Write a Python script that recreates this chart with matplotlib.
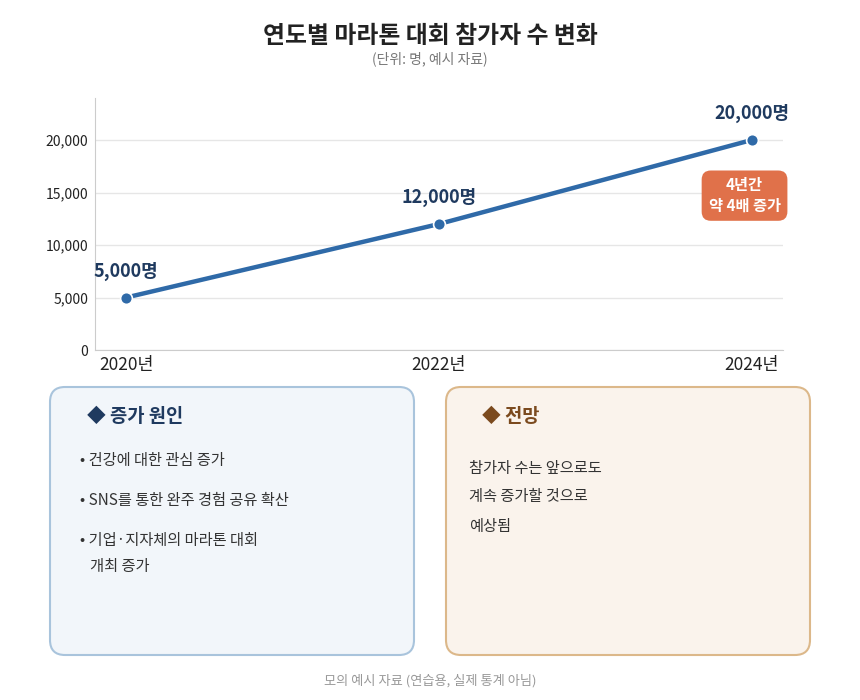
import matplotlib
matplotlib.use('Agg')
import matplotlib.pyplot as plt
from matplotlib.patches import FancyBboxPatch
from matplotlib.ticker import FuncFormatter

plt.rcParams['font.family'] = ['Noto Sans CJK KR', 'DejaVu Sans']

# data
years = ['2020년', '2022년', '2024년']
participants = [5000, 12000, 20000]
yticks = [0, 5000, 10000, 15000, 20000]
reasons = ['• 건강에 대한 관심 증가',
           '• SNS를 통한 완주 경험 공유 확산',
           '• 기업·지자체의 마라톤 대회\n   개최 증가']
outlook = ['참가자 수는 앞으로도', '계속 증가할 것으로', '예상됨']

navy = '#1f3a5f'
blue = '#2f6aa8'

fig = plt.figure(figsize=(8.6, 7), dpi=100)

# overlay in pixel coords for boxes and free text
bg = fig.add_axes([0, 0, 1, 1])
bg.set_xlim(0, 860)
bg.set_ylim(700, 0)
bg.axis('off')

bg.text(430, 36, '연도별 마라톤 대회 참가자 수 변화', ha='center', va='center',
        fontsize=17.2, fontweight='bold', color='#222222')
bg.text(430, 59, '(단위: 명, 예시 자료)', ha='center', va='center',
        fontsize=10, color='#777777')

# line chart
ax = fig.add_axes([95/860, 1-350/700, 688/860, 252/700])
x = list(range(len(years)))
ax.plot(x, participants, color=blue, lw=3.2, marker='o', markersize=8.5,
        markeredgecolor='white', markeredgewidth=1.2, zorder=3)
ax.set_xlim(-0.1, 2.1)
ax.set_ylim(0, 24000)
ax.set_xticks(x)
ax.set_xticklabels(years, fontsize=12.5, color='#222222')
ax.set_yticks(yticks)
ax.yaxis.set_major_formatter(FuncFormatter(lambda v, p: f'{int(v):,}'))
ax.tick_params(axis='y', labelsize=10, length=0, pad=5, colors='#222222')
ax.tick_params(axis='x', length=0, pad=4)
ax.grid(axis='y', color='#e6e6e6', lw=1)
ax.set_axisbelow(True)
for s in ['top', 'right']:
    ax.spines[s].set_visible(False)
for s in ['left', 'bottom']:
    ax.spines[s].set_color('#cccccc')

for xi, v in zip(x, participants):
    ax.annotate(f'{v:,}명', (xi, v), xytext=(0, 19), textcoords='offset points',
                ha='center', va='center', fontsize=13, fontweight='bold', color=navy)

ax.text(1.977, 14700, '4년간\n약 4배 증가', ha='center', va='center',
        fontsize=11, fontweight='bold', color='white', linespacing=1.35,
        bbox=dict(boxstyle='round,pad=0.45,rounding_size=0.6',
                  fc='#e0714a', ec='none'))

# bottom boxes
bg.add_patch(FancyBboxPatch((50, 387), 364, 268, boxstyle='round,pad=0,rounding_size=15',
                            fc='#f2f6fa', ec='#a9c4dc', lw=1.5))
bg.add_patch(FancyBboxPatch((446, 387), 364, 268, boxstyle='round,pad=0,rounding_size=15',
                            fc='#faf3ec', ec='#dcb88a', lw=1.5))

bg.text(87, 416, '◆ 증가 원인', ha='left', va='center', fontsize=13.5,
        fontweight='bold', color=navy)
bg.text(80, 460, reasons[0], ha='left', va='center', fontsize=11, color='#333333')
bg.text(80, 501, reasons[1], ha='left', va='center', fontsize=11, color='#333333')
bg.text(80, 541, reasons[2].split('\n')[0], ha='left', va='center', fontsize=11,
        color='#333333')
bg.text(80, 566, reasons[2].split('\n')[1], ha='left', va='center', fontsize=11,
        color='#333333')

bg.text(482, 416, '◆ 전망', ha='left', va='center', fontsize=13.5,
        fontweight='bold', color='#7b4a1e')
for yy, t in zip([468, 497, 526], outlook):
    bg.text(469, yy, t, ha='left', va='center', fontsize=11, color='#333333')

bg.text(430, 681, '모의 예시 자료 (연습용, 실제 통계 아님)', ha='center', va='center',
        fontsize=9.5, color='#999999')

fig.savefig('out.png', dpi=100)
